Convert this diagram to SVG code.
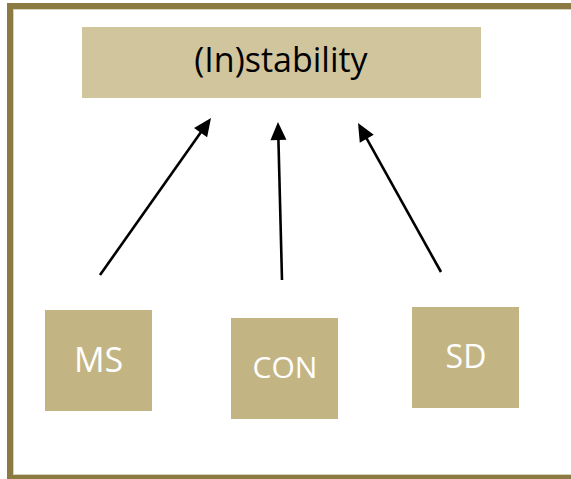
<svg xmlns="http://www.w3.org/2000/svg" width="571" height="479" viewBox="0 0 571 479">
  <style>
    .frame { fill: none; stroke: #8B7B42; stroke-width: 6; }
    .frame-inner { fill: none; stroke: #D8D2C0; stroke-width: 1; }
    .title-box { fill: #D1C59D; }
    .box { fill: #C3B583; }
    .title { font-family: "Open Sans", "Liberation Sans", sans-serif; font-size: 34px; fill: #000000; text-anchor: middle; }
    .label { font-family: "Open Sans", "Liberation Sans", sans-serif; fill: #FFFFFF; text-anchor: middle; }
    .arrow { stroke: #000000; stroke-width: 2.6; fill: none; marker-end: url(#head); }
  </style>
  <defs>
    <marker id="head" markerUnits="userSpaceOnUse" markerWidth="19" markerHeight="17" refX="9" refY="8" orient="auto" overflow="visible">
      <path d="M0,0 L18,8 L0,16 z" fill="#000000"/>
    </marker>
  </defs>

  <rect width="571" height="479" fill="#FFFFFF"/>

  <!-- outer frame -->
  <rect class="frame" x="10" y="6" width="600" height="472"/>
  <rect class="frame-inner" x="13.5" y="9.5" width="600" height="465"/>

  <g id="instability">
    <rect class="title-box" x="82" y="27" width="399" height="71"/>
    <text class="title" x="281" y="71.5">(In)stability</text>
  </g>

  <g id="ms">
    <rect class="box" x="45" y="310" width="107" height="101"/>
    <text class="label" x="98.5" y="372" font-size="34">MS</text>
  </g>

  <g id="con">
    <rect class="box" x="231" y="318" width="107" height="101"/>
    <text class="label" x="285" y="378" font-size="30">CON</text>
  </g>

  <g id="sd">
    <rect class="box" x="412" y="307" width="107" height="101"/>
    <text class="label" x="466" y="367.5" font-size="32">SD</text>
  </g>

  <g id="connectors">
    <line class="arrow" x1="100" y1="275" x2="205.8" y2="125.3"/>
    <line class="arrow" x1="282" y1="280" x2="278.2" y2="131"/>
    <line class="arrow" x1="441" y1="272" x2="362.4" y2="130.9"/>
  </g>
</svg>
